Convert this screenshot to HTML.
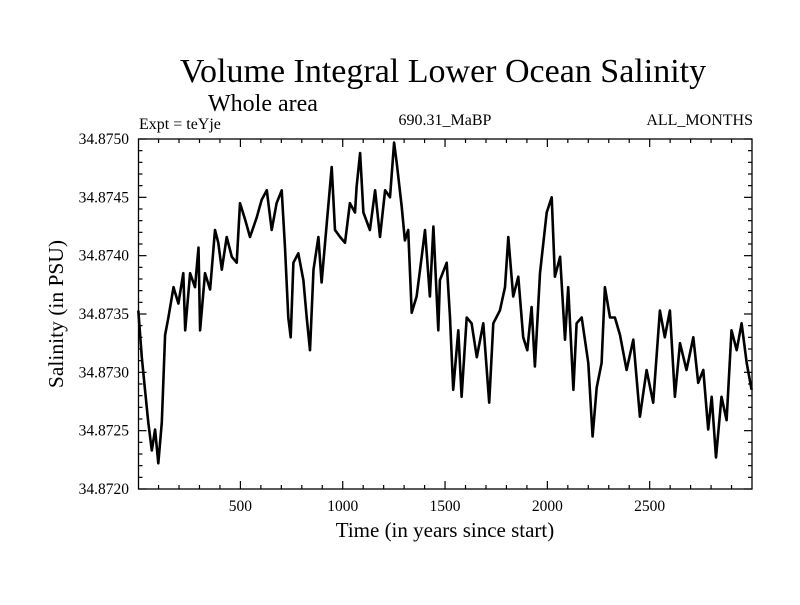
<!DOCTYPE html>
<html><head><meta charset="utf-8"><style>
body{margin:0;background:#fff;width:800px;height:600px;overflow:hidden}
svg text{font-family:"Liberation Serif",serif;fill:#000}
</style></head><body>
<svg id="chart" width="800" height="600">
<rect width="800" height="600" fill="#fff"/>
<text x="443" y="82" font-size="34" text-anchor="middle">Volume Integral Lower Ocean Salinity</text>
<text x="263" y="111" font-size="24" text-anchor="middle">Whole area</text>
<text x="139" y="129" font-size="16">Expt = teYje</text>
<text x="445" y="125" font-size="16" text-anchor="middle">690.31_MaBP</text>
<text x="753" y="125" font-size="16" text-anchor="end">ALL_MONTHS</text>
<text x="445" y="537" font-size="21" text-anchor="middle">Time (in years since start)</text>
<text x="0" y="0" font-size="21.5" text-anchor="middle" transform="translate(63,314) rotate(-90)">Salinity (in PSU)</text>
<g id="ticks"></g>
<path id="series" fill="none" stroke="#000" stroke-width="2.6" stroke-linejoin="round"/>
<rect x="138.5" y="139" width="613.5" height="350" fill="none" stroke="#000" stroke-width="1.3"/>
</svg>
<script>
const years=[1,18,34,50,67,83,99,116,132,148,173,197,221,230,254,278,295,303,327,352,376,392,409,433,458,482,498,523,547,580,604,629,653,677,702,718,734,746,759,783,808,824,840,857,881,897,922,946,962,987,1011,1035,1060,1068,1085,1101,1133,1158,1182,1207,1231,1251,1264,1288,1304,1320,1337,1361,1386,1402,1426,1443,1467,1475,1508,1524,1540,1565,1581,1606,1630,1655,1687,1716,1736,1768,1793,1809,1833,1858,1882,1902,1923,1939,1964,1997,2021,2037,2062,2086,2102,2127,2143,2168,2200,2221,2241,2265,2281,2306,2330,2355,2387,2420,2452,2485,2517,2550,2574,2599,2623,2648,2680,2713,2737,2762,2786,2803,2824,2851,2876,2900,2925,2949,2974,2998];
const salinity=[34.87353,34.87313,34.87285,34.87257,34.87233,34.87251,34.87222,34.87257,34.87332,34.87347,34.87373,34.87359,34.87385,34.87336,34.87385,34.87373,34.87407,34.87336,34.87385,34.87371,34.87422,34.87411,34.87388,34.87416,34.87399,34.87394,34.87445,34.87431,34.87416,34.87433,34.87448,34.87456,34.87422,34.87445,34.87456,34.87407,34.87347,34.87330,34.87394,34.87402,34.87379,34.87347,34.87319,34.87388,34.87416,34.87377,34.87428,34.87476,34.87422,34.87416,34.87411,34.87445,34.87437,34.87459,34.87488,34.87437,34.87422,34.87456,34.87416,34.87456,34.87450,34.87497,34.87479,34.87442,34.87413,34.87422,34.87351,34.87365,34.87399,34.87422,34.87365,34.87425,34.87336,34.87379,34.87394,34.87347,34.87285,34.87336,34.87279,34.87347,34.87342,34.87313,34.87342,34.87274,34.87342,34.87353,34.87373,34.87416,34.87365,34.87382,34.87330,34.87319,34.87356,34.87305,34.87385,34.87437,34.87450,34.87382,34.87399,34.87328,34.87373,34.87285,34.87342,34.87347,34.87308,34.87245,34.87287,34.87308,34.87373,34.87347,34.87347,34.87332,34.87302,34.87328,34.87262,34.87302,34.87274,34.87353,34.87330,34.87353,34.87279,34.87325,34.87302,34.87330,34.87291,34.87302,34.87251,34.87279,34.87227,34.87279,34.87259,34.87336,34.87319,34.87342,34.87308,34.87285];
const xTickLabels=[500,1000,1500,2000,2500];
const yTickLabels=["34.8720","34.8725","34.8730","34.8735","34.8740","34.8745","34.8750"];
const X0=138.5,X1=752,Y0=489,Y1=139,XMIN=2,XMAX=3000,YMIN=34.8720,YMAX=34.8750;
function sx(v){return X0+(v-XMIN)/(XMAX-XMIN)*(X1-X0);}
function sy(v){return Y0-(v-YMIN)/(YMAX-YMIN)*(Y0-Y1);}
const NS='http://www.w3.org/2000/svg';
const g=document.getElementById('ticks');
function line(x1,y1,x2,y2,name){const l=document.createElementNS(NS,'line');l.setAttribute('x1',x1);l.setAttribute('y1',y1);l.setAttribute('x2',x2);l.setAttribute('y2',y2);l.setAttribute('stroke','#000');l.setAttribute('stroke-width','1.2');


g.appendChild(l);}
function text(x,y,s,anchor,name){const t=document.createElementNS(NS,'text');t.setAttribute('x',x);t.setAttribute('y',y);t.setAttribute('font-size','15.5');t.setAttribute('text-anchor',anchor);t.textContent=s;


g.appendChild(t);}
for(let v=100;v<XMAX;v+=100){const x=sx(v);const L=(v%500===0)?8:4;line(x,Y0,x,Y0-L,'x-tick');line(x,Y1,x,Y1+L,'x-tick-top');}
xTickLabels.forEach(v=>text(sx(v),511,String(v),'middle','x-tick-label'));
for(let i=0;i<=30;i++){const v=YMIN+i*0.0001;const y=sy(v);const L=(i%5===0)?8:4;line(X0,y,X0+L,y,'y-tick');line(X1,y,X1-L,y,'y-tick-right');}
yTickLabels.forEach(s=>text(129,sy(parseFloat(s))+5,s,'end','y-tick-label'));
let d='';years.forEach((yr,i)=>{d+=(i?'L':'M')+sx(yr).toFixed(1)+' '+sy(salinity[i]).toFixed(1);});
document.getElementById('series').setAttribute('d',d);
</script>
</body></html>
